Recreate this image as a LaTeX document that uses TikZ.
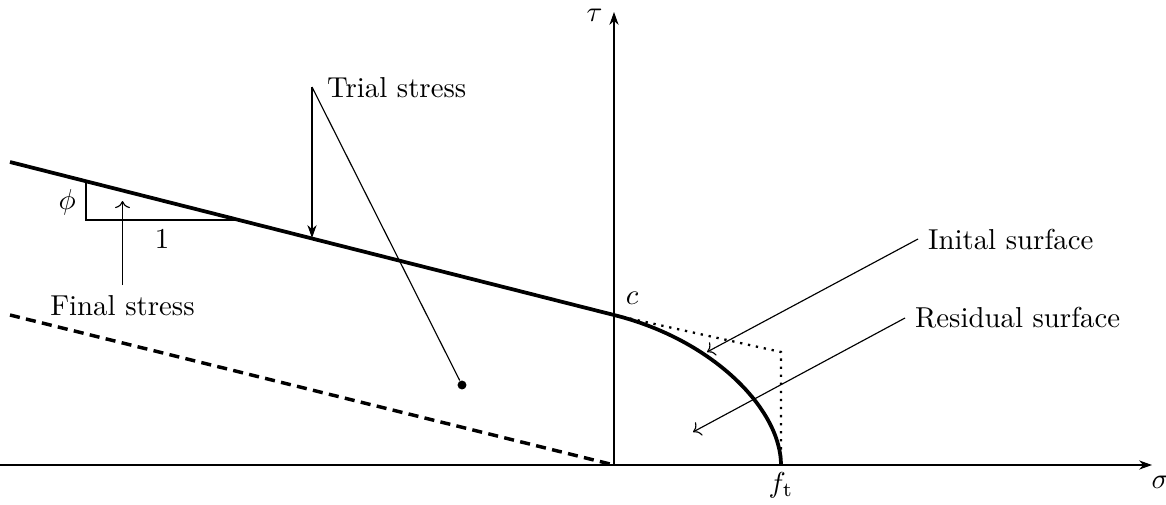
\documentclass[tikz,border=0pt]{standalone}
\usetikzlibrary{arrows.meta}
\begin{document}
\begin{tikzpicture}[x=0.347pt,y=-0.347pt,
  axis/.style={line width=0.4pt,-{Stealth[length=4.5pt,width=3.2pt]}},
  surf/.style={line width=1.3pt},
  resid/.style={line width=1.2pt,dash pattern=on 3.5pt off 2.2pt},
  aux/.style={thick,dotted},
  thinline/.style={line width=0.4pt},
  pointer/.style={line width=0.4pt,->},
  spointer/.style={line width=0.4pt,-{Stealth[length=4.5pt,width=3.2pt]}},
  mathlbl/.style={inner sep=0pt},
  txt/.style={inner sep=3.33pt}]
\useasboundingbox (0,0) rectangle (1166,505);
% coordinates
\coordinate (O) at (614,465);
\coordinate (sigW) at (0,465);
\coordinate (sigE) at (1152,465);
\coordinate (tauN) at (614,12);
\coordinate (L) at (10,162);
\coordinate (C) at (614,315);
\coordinate (Ft) at (781,465);
\coordinate (corner) at (781,352);
\coordinate (RL) at (10,315);
\coordinate (t1) at (86,181);
\coordinate (t2) at (86,220);
\coordinate (t3) at (239,220);
\coordinate (apex) at (312,87);
\coordinate (trialTip) at (312,238);
\coordinate (finTip) at (122.5,201);
\coordinate (initTip) at (707,352);
\coordinate (resTip) at (693,432);
% axes
\draw[axis] (sigW) -- (sigE);
\draw[axis] (O) -- (tauN);
\node[mathlbl,anchor=north west] (sig) at (1151,476) {$\sigma$};
\node[mathlbl,anchor=east] (tau) at (603,15) {$\tau$};
% surfaces
\draw[aux] (C) -- (corner) -- (Ft);
\draw[surf] (L) -- (C) .. controls (714,340) and (781,410) .. (Ft);
\draw[resid] (RL) -- (O);
\node[mathlbl] (c) at (632,298) {$c$};
\node[mathlbl,anchor=north] (ft) at (781,472) {$f_{\mathrm{t}}$};
% slope triangle
\draw[thinline] (t1) -- (t2) -- (t3);
\node[txt,anchor=east] (phi) at (86,202) {$\phi$};
\node[txt,anchor=north] (one) at (162,220) {$1$};
% final stress
\node[txt,anchor=north] (fin) at (122.5,285) {Final stress};
\draw[pointer] (fin.north) -- (finTip);
% trial stress
\node[txt,anchor=west] (trial) at (317,88) {Trial stress};
\node[circle,fill,inner sep=0pt,minimum size=3.1pt] (dot) at (462,385) {};
\draw[spointer] (apex) -- (trialTip);
\draw[thinline] (apex) -- (dot);
% surface labels
\node[txt,anchor=west] (init) at (918,239) {Inital surface};
\node[txt,anchor=west] (res) at (905,318) {Residual surface};
\draw[pointer] (init.west) -- (initTip);
\draw[pointer] (res.west) -- (resTip);
\end{tikzpicture}
\end{document}
